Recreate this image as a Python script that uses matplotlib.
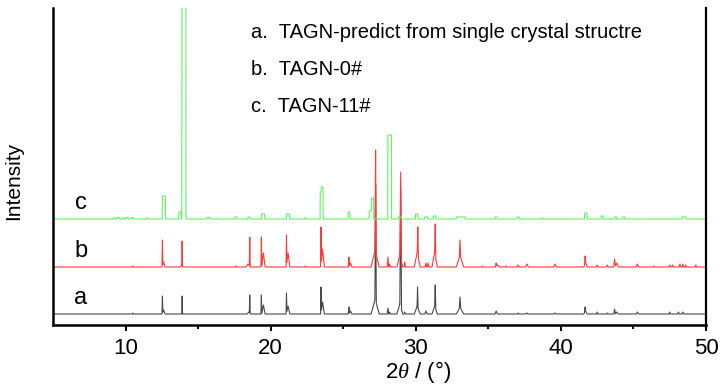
import numpy as np
import matplotlib
matplotlib.use('Agg')
from matplotlib import pyplot as plt

plt.rcParams['font.family'] = ['Liberation Sans', 'DejaVu Sans']
plt.rcParams['mathtext.fontset'] = 'custom'
plt.rcParams['mathtext.it'] = 'Liberation Serif:italic'
plt.rcParams['mathtext.rm'] = 'Liberation Sans'

# peak lists: position (2theta), height (arb.), half width
# a: predicted from single crystal structure
a_pos = [10.5, 12.54, 12.62, 13.9, 18.56, 18.5, 19.36, 19.5, 21.09, 21.2, 23.47, 23.58,
         25.39, 25.5, 27.23, 27.2, 28.08, 28.2, 28.96, 28.9, 29.24, 30.12, 30.1, 30.7,
         31.34, 31.3, 33.05, 33.05, 35.54, 37.06, 37.66, 39.6, 41.67, 41.7, 42.5, 43.2,
         43.7, 43.85, 45.27, 47.5, 48.1, 48.4]
a_int = [1, 18, 4, 18, 19, 2, 19, 9, 21, 8, 27, 12,
         7, 3, 130, 15, 6, 2, 125, 10, 2, 27, 8, 3,
         29, 8, 17, 7, 3, 1, 1, 1, 7, 3, 2, 1,
         5, 2, 2, 2, 2, 2]
a_wid = [0.04, 0.03, 0.1, 0.03, 0.03, 0.12, 0.03, 0.12, 0.03, 0.12, 0.03, 0.12,
         0.04, 0.1, 0.05, 0.28, 0.05, 0.06, 0.06, 0.2, 0.05, 0.04, 0.2, 0.08,
         0.04, 0.18, 0.05, 0.25, 0.08, 0.05, 0.08, 0.08, 0.05, 0.12, 0.05, 0.05,
         0.06, 0.1, 0.08, 0.05, 0.06, 0.06]

# b: TAGN-0#
b_pos = [10.5, 12.54, 12.62, 13.9, 13.85, 17.6, 18.56, 18.45, 19.36, 19.5, 21.09, 21.2,
         22.4, 23.47, 23.58, 25.39, 25.5, 27.23, 27.2, 28.08, 28.2, 28.96, 28.9, 29.24,
         30.14, 30.1, 30.7, 30.85, 31.34, 31.3, 33.05, 33.05, 34.6, 35.54, 35.65, 36.2,
         37.06, 37.66, 39.6, 41.67, 41.7, 42.5, 43.2, 43.7, 43.85, 45.27, 46.4,
         47.5, 47.7, 48.2, 48.4, 48.6, 49.3]
b_int = [1, 27, 5, 26, 2, 1, 30, 3, 30, 14, 32, 14,
         1, 40, 18, 10, 4, 117, 17, 10, 3, 95, 12, 5,
         40, 15, 4, 4, 43, 15, 27, 12, 1, 4, 2, 1,
         2, 3, 3, 11, 5, 2, 2, 8, 4, 3, 1,
         2, 2, 3, 3, 2, 2]
b_wid = [0.04, 0.03, 0.1, 0.03, 0.08, 0.04, 0.03, 0.15, 0.03, 0.12, 0.03, 0.12,
         0.04, 0.03, 0.12, 0.04, 0.1, 0.05, 0.28, 0.05, 0.06, 0.06, 0.2, 0.05,
         0.04, 0.2, 0.06, 0.06, 0.04, 0.18, 0.05, 0.25, 0.04, 0.06, 0.1, 0.04,
         0.06, 0.1, 0.08, 0.04, 0.12, 0.06, 0.06, 0.06, 0.12, 0.08, 0.04,
         0.06, 0.06, 0.06, 0.05, 0.05, 0.05]

# c: TAGN-11# (flat topped peaks)
c_pos = [9.2, 9.5, 9.8, 10.1, 10.45, 11.5, 12.64, 13.75, 14.02, 15.7, 17.6, 18.5,
         19.48, 21.2, 22.4, 23.5, 23.55, 25.4, 26.9, 27.02, 28.2, 28.9, 30.07, 30.7,
         31.3, 33.1, 35.54, 37.06, 38.7, 41.72, 42.85, 43.77, 44.33, 48.5]
c_int = [1, 1.5, 1, 1.5, 1.5, 1, 23, 7, 400, 1.5, 2, 2,
         5, 5, 1, 27, 32, 7, 8, 21, 84, 2, 5, 2,
         3, 2, 2, 2, 1, 6, 3, 2, 2, 2]
c_wid = [0.05, 0.08, 0.06, 0.08, 0.06, 0.05, 0.1, 0.08, 0.13, 0.08, 0.06, 0.06,
         0.1, 0.1, 0.04, 0.08, 0.06, 0.06, 0.1, 0.07, 0.12, 0.1, 0.08, 0.1,
         0.08, 0.3, 0.06, 0.06, 0.04, 0.08, 0.06, 0.06, 0.06, 0.12]

offsets = {'a': 11, 'b': 58, 'c': 106}
legend_lines = ['a.  TAGN-predict from single crystal structre',
                'b.  TAGN-0#',
                'c.  TAGN-11#']


def profile(pos, height, width, top=False, edge=0.015):
    # line through the peak corners; envelope of the peaks at those corners
    pos = np.array(pos, float)
    height = np.array(height, float)
    width = np.array(width, float)
    if top:
        t, e = width, np.full_like(width, edge)
    else:
        t, e = np.zeros_like(width), width
    xs = np.unique(np.concatenate([[5.0, 50.0], pos - t - e, pos - t, pos, pos + t, pos + t + e]))
    ys = np.zeros_like(xs)
    for p, h, tt, ee in zip(pos, height, t, e):
        ys = np.maximum(ys, h * np.clip((tt + ee - np.abs(xs - p)) / ee, 0, 1))
    return xs, ys


fig = plt.figure(figsize=(7.28, 3.9), dpi=100)
ax = fig.add_axes([53/728, 65/390, 653/728, 317/390])

x, y = profile(a_pos, a_int, a_wid)
ax.plot(x, y + offsets['a'], color='#4a4a4a', lw=0.8)
x, y = profile(b_pos, b_int, b_wid)
ax.plot(x, y + offsets['b'], color='#ff3a3a', lw=0.8)
x, y = profile(c_pos, c_int, c_wid, top=True)
ax.plot(x, y + offsets['c'], color='#66f066', lw=0.8)

ax.set_xlim(5, 50)
ax.set_ylim(0, 317)

for key in ['a', 'b', 'c']:
    ax.text(6.9, offsets[key] + 16, key, fontsize=17, ha='center', va='center')

for i, s in enumerate(legend_lines):
    ax.text(18.65, 287 - 37 * i, s, fontsize=14.5, ha='left', va='baseline')

ax.spines['top'].set_visible(False)
ax.spines['left'].set_linewidth(1.8)
ax.spines['bottom'].set_linewidth(1.8)
ax.spines['right'].set_linewidth(1.6)

ax.set_xticks([10, 20, 30, 40, 50])
ax.set_xticks([15, 25, 35, 45], minor=True)
ax.set_yticks([])
ax.tick_params(axis='x', which='major', direction='out', length=4, width=1.5,
               labelsize=16, pad=5)
ax.tick_params(axis='x', which='minor', direction='out', length=3, width=1.5)

ax.set_xlabel(r'2$\it{\theta}$ / (°)', fontsize=16)
ax.xaxis.set_label_coords(0.559, -0.108)
ax.set_ylabel('Intensity', fontsize=15)
ax.yaxis.set_label_coords(-0.045, 0.454)

fig.savefig('out.png', dpi=100)
